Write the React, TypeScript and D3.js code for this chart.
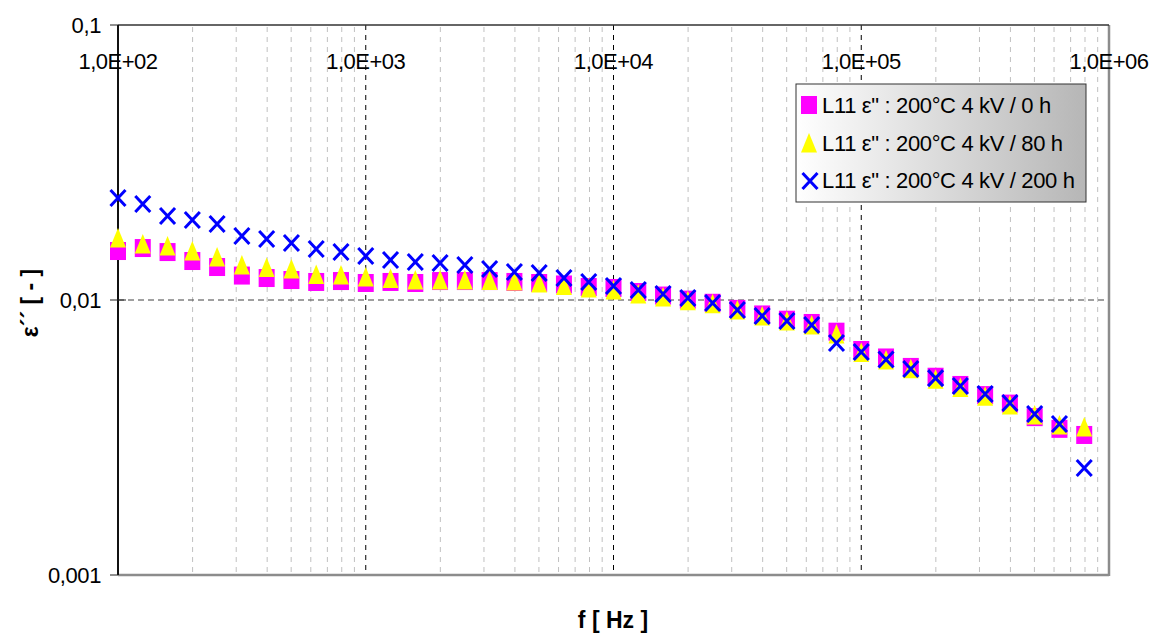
import React from "react";
import * as d3 from "d3";

const exponents = [
  2.0, 2.1, 2.2, 2.3, 2.4, 2.5, 2.6, 2.7, 2.8, 2.9,
  3.0, 3.1, 3.2, 3.3, 3.4, 3.5, 3.6, 3.7, 3.8, 3.9,
  4.0, 4.1, 4.2, 4.3, 4.4, 4.5, 4.6, 4.7, 4.8, 4.9,
  5.0, 5.1, 5.2, 5.3, 5.4, 5.5, 5.6, 5.7, 5.8, 5.9,
];
const frequencies = exponents.map((e) => Math.pow(10, e));

const series0h = [
  0.01507, 0.01545, 0.01494, 0.01386, 0.01318, 0.01227, 0.01202, 0.01182, 0.01163, 0.01172,
  0.01153, 0.01163, 0.01153, 0.01172, 0.01172, 0.01172, 0.01163, 0.01153, 0.01139, 0.01115,
  0.01106, 0.01069, 0.01038, 0.01003, 0.00977, 0.00928, 0.00886, 0.00848, 0.00825, 0.00767,
  0.00658, 0.00618, 0.00571, 0.00526, 0.00491, 0.00451, 0.0042, 0.00375, 0.0034, 0.00323,
];
const series80h = [
  0.0168, 0.01598, 0.01572, 0.01507, 0.01433, 0.0134, 0.01313, 0.01297, 0.01238, 0.01233,
  0.01213, 0.01198, 0.01182, 0.01182, 0.01182, 0.01178, 0.01172, 0.01153, 0.01129, 0.01106,
  0.01088, 0.01051, 0.01025, 0.00993, 0.00969, 0.0092, 0.00875, 0.00839, 0.00811, 0.00752,
  0.00644, 0.00605, 0.00562, 0.00515, 0.00481, 0.00447, 0.00415, 0.00382, 0.00351, 0.00345,
];
const series200h = [
  0.0235, 0.02234, 0.0202, 0.01954, 0.0189, 0.01709, 0.01667, 0.01612, 0.01533, 0.01494,
  0.01445, 0.01398, 0.01375, 0.01363, 0.0134, 0.01297, 0.01265, 0.01254, 0.01202, 0.01163,
  0.01124, 0.01088, 0.01051, 0.01017, 0.00975, 0.0092, 0.00875, 0.00839, 0.00811, 0.00698,
  0.00647, 0.00608, 0.00561, 0.0052, 0.00487, 0.00455, 0.00422, 0.00385, 0.00354, 0.00245,
];

const xTickValues = [1e2, 1e3, 1e4, 1e5, 1e6];
const xTickLabels = ["1,0E+02", "1,0E+03", "1,0E+04", "1,0E+05", "1,0E+06"];
const yTickValues = [0.1, 0.01, 0.001];
const yTickLabels = ["0,1", "0,01", "0,001"];
const legendLabels = [
  'L11 ε" : 200°C 4 kV / 0 h',
  'L11 ε" : 200°C 4 kV / 80 h',
  'L11 ε" : 200°C 4 kV / 200 h',
];

const FONT = "'Liberation Sans', Arial, sans-serif";

export default function App() {
  const left = 118, right = 1109, top = 25, bottom = 575;
  const x = d3.scaleLog().domain([1e2, 1e6]).range([left, right]);
  const y = d3.scaleLog().domain([0.001, 0.1]).range([bottom, top]);

  const minorX: number[] = [];
  for (let d = 2; d < 6; d++) {
    for (let m = 2; m <= 9; m++) minorX.push(m * Math.pow(10, d));
  }

  const sq = (cx: number, cy: number, k: string) => (
    <rect key={k} x={cx - 8} y={cy - 9} width={16} height={18} fill="#FF00FF" />
  );
  const tri = (cx: number, cy: number, k: string) => (
    <path key={k} d={`M${cx},${cy - 10}L${cx + 8},${cy + 9.5}L${cx - 8},${cy + 9.5}Z`} fill="#FFFF00" />
  );
  const cross = (cx: number, cy: number, k: string) => (
    <path
      key={k}
      d={`M${cx - 7.5},${cy - 8}L${cx + 7.5},${cy + 8}M${cx + 7.5},${cy - 8}L${cx - 7.5},${cy + 8}`}
      stroke="#0000FF"
      strokeWidth={3}
      fill="none"
    />
  );

  const legX = 796, legY = 84, legW = 290, legH = 118;
  const rowBase = [113, 151, 188];

  return (
    <svg width={1153} height={634} style={{ display: "block", position: "absolute", left: 0, top: 0 }}>
      <defs>
        <linearGradient id="legGrad" x1="0" x2="1" y1="0" y2="0">
          <stop offset="0" stopColor="#ffffff" />
          <stop offset="1" stopColor="#b6b6b6" />
        </linearGradient>
      </defs>
      <rect x={0} y={0} width={1153} height={634} fill="#ffffff" />

      {/* minor vertical gridlines */}
      {minorX.map((v, i) => (
        <line key={"mx" + i} x1={x(v)} x2={x(v)} y1={top + 2} y2={bottom} stroke="#c0c0c0" strokeWidth={1} strokeDasharray="5,5" />
      ))}
      {/* major vertical gridlines */}
      {xTickValues.slice(1, 4).map((v, i) => (
        <line key={"Mx" + i} x1={x(v)} x2={x(v)} y1={top} y2={bottom} stroke="#000000" strokeWidth={1} strokeDasharray="5,5" />
      ))}
      {/* horizontal gridline */}
      <line x1={left} x2={right} y1={y(0.01)} y2={y(0.01)} stroke="#404040" strokeWidth={1} strokeDasharray="6,4" />

      {/* plot border */}
      <line x1={left} x2={right} y1={bottom} y2={bottom} stroke="#8c8c8c" strokeWidth={2.5} />
      <line x1={right} x2={right} y1={top} y2={bottom + 1} stroke="#8c8c8c" strokeWidth={2.5} />
      <line x1={left} x2={right} y1={top} y2={top} stroke="#333333" strokeWidth={1.5} />
      <line x1={left} x2={left} y1={top} y2={bottom} stroke="#111111" strokeWidth={2} />

      {/* y ticks */}
      {yTickValues.map((v, i) => (
        <g key={"yt" + i}>
          <line x1={left - 8} x2={left + (v === 0.01 ? 8 : 0)} y1={y(v)} y2={y(v)} stroke="#222" strokeWidth={1} />
          <text x={101} y={y(v) + 8} textAnchor="end" fontFamily={FONT} fontSize={22} letterSpacing={-0.4} fill="#000">
            {yTickLabels[i]}
          </text>
        </g>
      ))}

      {/* x tick labels */}
      {xTickValues.map((v, i) => (
        <text key={"xt" + i} x={x(v)} y={69} textAnchor="middle" fontFamily={FONT} fontSize={22} letterSpacing={-0.5} fill="#000">
          {xTickLabels[i]}
        </text>
      ))}

      {/* series */}
      <g>{frequencies.map((f, i) => sq(x(f), y(series0h[i]), "s" + i))}</g>
      <g>{frequencies.map((f, i) => tri(x(f), y(series80h[i]), "t" + i))}</g>
      <g>{frequencies.map((f, i) => cross(x(f), y(series200h[i]), "c" + i))}</g>

      {/* legend */}
      <rect x={legX} y={legY} width={legW} height={legH} fill="url(#legGrad)" stroke="#333333" strokeWidth={1} />
      {sq(809, rowBase[0] - 8, "ls")}
      {tri(809, rowBase[1] - 8, "lt")}
      {cross(810, rowBase[2] - 7, "lc")}
      {legendLabels.map((t, i) => (
        <text key={"lg" + i} x={822} y={rowBase[i]} fontFamily={FONT} fontSize={22} letterSpacing={-0.35} fill="#000">
          {t}
        </text>
      ))}

      {/* axis titles */}
      <text x={613} y={628} textAnchor="middle" fontFamily={FONT} fontSize={23} fontWeight="bold" fill="#000">
        f [ Hz ]
      </text>
      <text
        transform={`translate(38,303) rotate(-90)`}
        textAnchor="middle"
        fontFamily={FONT}
        fontSize={23}
        fontWeight="bold"
        fill="#000"
      >
        ε´´ [ - ]
      </text>
    </svg>
  );
}
